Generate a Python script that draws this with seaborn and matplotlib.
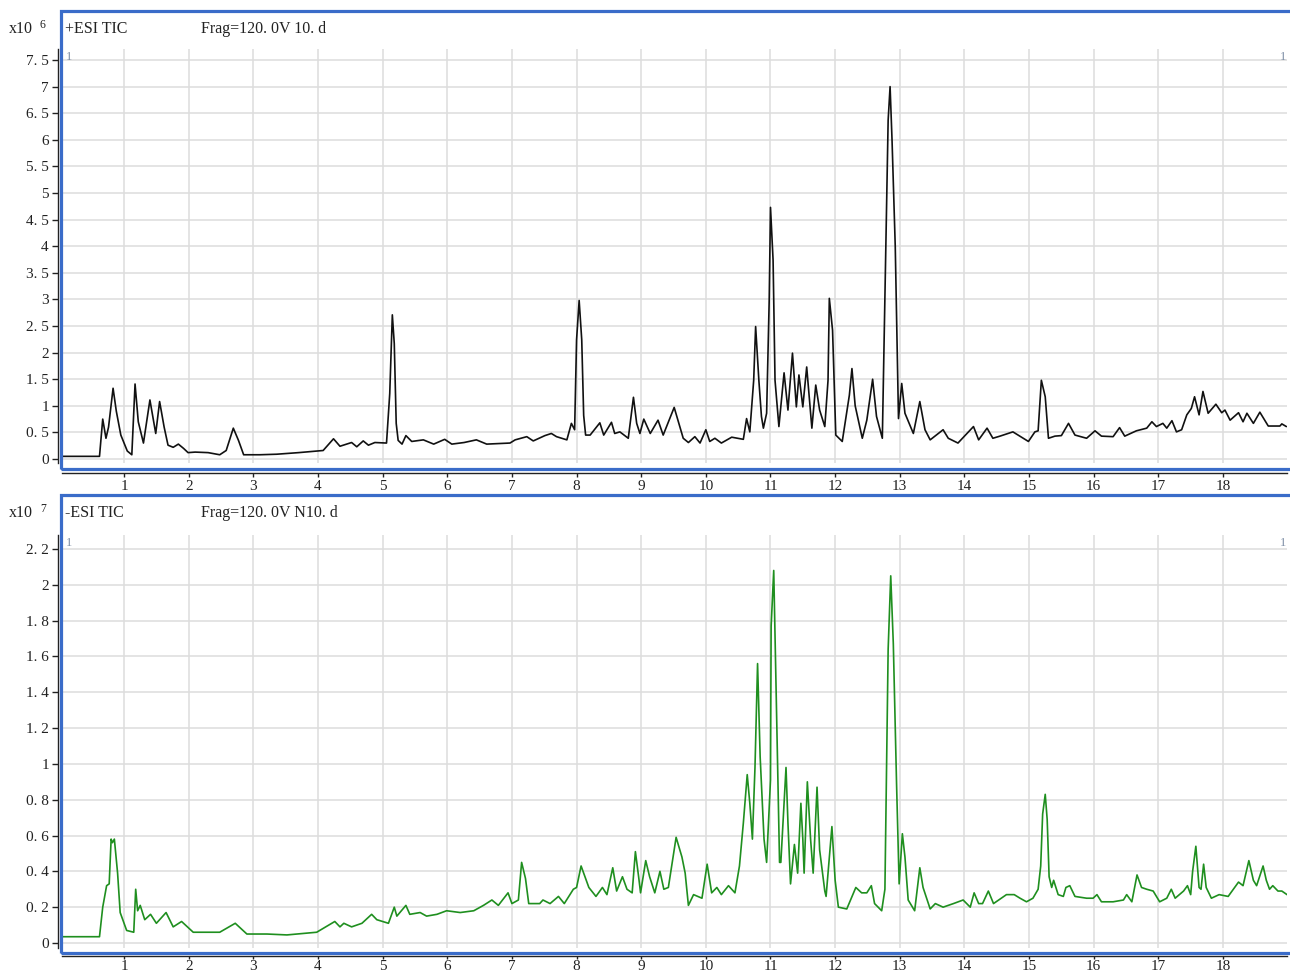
import pandas as pd
import seaborn as sns
import matplotlib.pyplot as plt
from matplotlib.patches import Rectangle

# +ESI TIC, Frag=120.0V 10.d  (retention time, min / counts x10^6)
pos_rt = [0.04, 0.62, 0.67, 0.72, 0.76, 0.83, 0.88, 0.95, 1.05, 1.12, 1.17, 1.22, 1.30, 1.40, 1.49,
          1.55, 1.62, 1.68, 1.76, 1.84, 1.92, 1.99, 2.10, 2.30, 2.48, 2.58, 2.69, 2.77, 2.85, 3.10,
          3.36, 3.70, 4.08, 4.24, 4.34, 4.52, 4.60, 4.70, 4.78, 4.88, 5.06, 5.11, 5.15, 5.18, 5.21,
          5.24, 5.30, 5.36, 5.45, 5.63, 5.79, 5.96, 6.07, 6.26, 6.45, 6.61, 6.97, 7.05, 7.23, 7.33,
          7.51, 7.61, 7.69, 7.85, 7.92, 7.97, 8.00, 8.04, 8.08, 8.11, 8.14, 8.21, 8.36, 8.42, 8.54,
          8.59, 8.67, 8.80, 8.88, 8.93, 8.98, 9.04, 9.14, 9.26, 9.34, 9.51, 9.65, 9.73, 9.83, 9.91,
          10.00, 10.06, 10.14, 10.24, 10.40, 10.58, 10.63, 10.68, 10.74, 10.77, 10.82, 10.86, 10.89,
          10.94, 10.98, 11.00, 11.04, 11.07, 11.13, 11.21, 11.27, 11.34, 11.40, 11.44, 11.50, 11.56,
          11.64, 11.70, 11.76, 11.84, 11.89, 11.91, 11.96, 12.01, 12.11, 12.22, 12.26, 12.31, 12.42,
          12.49, 12.58, 12.64, 12.73, 12.78, 12.82, 12.85, 12.88, 12.93, 12.98, 13.03, 13.08, 13.21,
          13.31, 13.39, 13.47, 13.67, 13.75, 13.90, 14.14, 14.22, 14.35, 14.44, 14.55, 14.75, 14.99,
          15.09, 15.14, 15.19, 15.25, 15.30, 15.40, 15.50, 15.61, 15.71, 15.89, 16.02, 16.12, 16.30,
          16.40, 16.48, 16.66, 16.82, 16.90, 16.97, 17.07, 17.13, 17.21, 17.28, 17.36, 17.44, 17.51,
          17.56, 17.63, 17.69, 17.77, 17.89, 17.98, 18.03, 18.11, 18.24, 18.31, 18.37, 18.47, 18.57,
          18.70, 18.88, 18.91, 18.98]
pos_int = [0.05, 0.05, 0.75, 0.39, 0.60, 1.33, 0.90, 0.45, 0.15, 0.08, 1.41, 0.70, 0.30, 1.11, 0.48,
           1.08, 0.60, 0.26, 0.22, 0.28, 0.20, 0.12, 0.13, 0.12, 0.08, 0.16, 0.58, 0.35, 0.08, 0.08,
           0.09, 0.12, 0.16, 0.38, 0.24, 0.31, 0.23, 0.34, 0.26, 0.31, 0.30, 1.23, 2.71, 2.17, 0.67,
           0.35, 0.28, 0.44, 0.33, 0.36, 0.28, 0.37, 0.28, 0.31, 0.36, 0.28, 0.30, 0.36, 0.42, 0.34,
           0.44, 0.48, 0.42, 0.36, 0.67, 0.55, 2.24, 2.98, 2.24, 0.82, 0.45, 0.45, 0.68, 0.45, 0.69,
           0.48, 0.51, 0.39, 1.16, 0.67, 0.48, 0.75, 0.48, 0.73, 0.45, 0.97, 0.39, 0.31, 0.42, 0.30,
           0.55, 0.33, 0.39, 0.30, 0.41, 0.37, 0.76, 0.51, 1.48, 2.49, 1.48, 0.80, 0.58,
           0.86, 2.99, 4.73, 3.74, 1.48, 0.61, 1.62, 0.92, 1.99, 0.98, 1.58, 0.98, 1.73,
           0.58, 1.39, 0.92, 0.61, 1.48, 3.02, 2.42, 0.45, 0.33, 1.20, 1.70, 1.00, 0.39,
           0.73, 1.50, 0.80, 0.39, 3.74, 6.37, 7.00, 6.00, 3.99, 0.76, 1.42, 0.86, 0.48,
           1.08, 0.55, 0.36, 0.55, 0.39, 0.30, 0.61, 0.36, 0.58, 0.39, 0.43, 0.51, 0.33,
           0.51, 0.53, 1.48, 1.17, 0.39, 0.43, 0.44, 0.67, 0.45, 0.39, 0.53, 0.43, 0.42,
           0.59, 0.43, 0.53, 0.58, 0.70, 0.61, 0.67, 0.58, 0.72, 0.51, 0.55, 0.83, 0.95,
           1.17, 0.83, 1.27, 0.86, 1.03, 0.87, 0.92, 0.73, 0.87, 0.70, 0.86, 0.67, 0.88,
           0.62, 0.62, 0.66, 0.61]

# -ESI TIC, Frag=120.0V N10.d  (retention time, min / counts x10^7)
neg_rt = [0.04, 0.62, 0.67, 0.73, 0.77, 0.80, 0.82, 0.85, 0.90, 0.94, 1.04, 1.15, 1.18, 1.21, 1.25,
          1.32, 1.41, 1.50, 1.65, 1.76, 1.89, 2.07, 2.48, 2.72, 2.90, 3.21, 3.52, 3.98, 4.26, 4.34,
          4.40, 4.52, 4.68, 4.83, 4.91, 5.09, 5.18, 5.22, 5.36, 5.42, 5.58, 5.68, 5.84, 5.99, 6.20,
          6.41, 6.56, 6.69, 6.79, 6.94, 7.00, 7.10, 7.15, 7.21, 7.26, 7.43, 7.48, 7.59, 7.72, 7.81,
          7.95, 8.00, 8.07, 8.19, 8.30, 8.40, 8.47, 8.56, 8.62, 8.71, 8.78, 8.86, 8.91, 8.96, 8.99,
          9.07, 9.13, 9.21, 9.29, 9.35, 9.42, 9.54, 9.59, 9.63, 9.68, 9.73, 9.81, 9.94, 10.02, 10.09,
          10.17, 10.24, 10.35, 10.45, 10.52, 10.58, 10.64, 10.68, 10.72, 10.76, 10.80, 10.84, 10.90,
          10.94, 11.00, 11.01, 11.05, 11.09, 11.14, 11.16, 11.24, 11.27, 11.31, 11.37, 11.42, 11.47,
          11.50, 11.52, 11.57, 11.62, 11.66, 11.72, 11.76, 11.84, 11.86, 11.95, 12.00, 12.05, 12.18,
          12.32, 12.41, 12.49, 12.56, 12.61, 12.72, 12.77, 12.82, 12.86, 12.90, 12.95, 12.99, 13.04,
          13.08, 13.13, 13.23, 13.31, 13.36, 13.47, 13.55, 13.67, 13.83, 13.98, 14.09, 14.15, 14.22,
          14.28, 14.37, 14.45, 14.65, 14.77, 14.86, 14.96, 15.06, 15.14, 15.18, 15.21, 15.25, 15.28,
          15.31, 15.35, 15.38, 15.45, 15.53, 15.57, 15.63, 15.71, 15.89, 15.99, 16.05, 16.12, 16.30,
          16.46, 16.51, 16.59, 16.67, 16.74, 16.82, 16.92, 17.02, 17.13, 17.20, 17.26, 17.39, 17.45,
          17.50, 17.53, 17.58, 17.63, 17.66, 17.70, 17.74, 17.82, 17.94, 18.08, 18.24, 18.31, 18.40,
          18.47, 18.52, 18.62, 18.67, 18.72, 18.77, 18.85, 18.91, 18.99]
neg_int = [0.035, 0.035, 0.20, 0.32, 0.33, 0.58, 0.56, 0.58, 0.39, 0.17, 0.07, 0.06, 0.30, 0.18, 0.21,
           0.13, 0.16, 0.11, 0.17, 0.09, 0.12, 0.06, 0.06, 0.11, 0.05, 0.05, 0.045, 0.06, 0.12, 0.09,
           0.11, 0.09, 0.11, 0.16, 0.13, 0.11, 0.20, 0.15, 0.21, 0.16, 0.17, 0.15, 0.16, 0.18, 0.17,
           0.18, 0.21, 0.24, 0.21, 0.28, 0.22, 0.24, 0.45, 0.36, 0.22, 0.22, 0.24, 0.22, 0.26, 0.22,
           0.30, 0.31, 0.43, 0.31, 0.26, 0.31, 0.27, 0.42, 0.29, 0.37, 0.30, 0.28, 0.51, 0.37, 0.28,
           0.46, 0.37, 0.28, 0.40, 0.30, 0.31, 0.59, 0.53, 0.48, 0.39, 0.21, 0.27, 0.25, 0.44, 0.28,
           0.31, 0.27, 0.32, 0.28, 0.43, 0.67, 0.94, 0.78, 0.58, 0.98, 1.56, 1.04, 0.58,
           0.45, 0.91, 1.77, 2.08, 1.36, 0.45, 0.45, 0.98, 0.67, 0.33, 0.55, 0.39, 0.78,
           0.58, 0.39, 0.90, 0.58, 0.39, 0.87, 0.52, 0.29, 0.26, 0.65, 0.35, 0.20, 0.19,
           0.31, 0.28, 0.28, 0.32, 0.22, 0.18, 0.30, 1.64, 2.05, 1.67, 0.89, 0.33, 0.61,
           0.48, 0.24, 0.18, 0.42, 0.31, 0.19, 0.22, 0.20, 0.22, 0.24, 0.20, 0.28, 0.22,
           0.22, 0.29, 0.22, 0.27, 0.27, 0.25, 0.23, 0.25, 0.30, 0.43, 0.72, 0.83, 0.69,
           0.37, 0.31, 0.35, 0.27, 0.26, 0.31, 0.32, 0.26, 0.25, 0.25, 0.27, 0.23, 0.23,
           0.24, 0.27, 0.23, 0.38, 0.31, 0.30, 0.29, 0.23, 0.25, 0.30, 0.25, 0.29, 0.32,
           0.27, 0.40, 0.54, 0.31, 0.30, 0.44, 0.31, 0.25, 0.27, 0.26, 0.34, 0.32, 0.46,
           0.35, 0.32, 0.43, 0.35, 0.30, 0.32, 0.29, 0.29, 0.27]

x_ticks = list(range(1, 19))
pos_yticks = [0, 0.5, 1, 1.5, 2, 2.5, 3, 3.5, 4, 4.5, 5, 5.5, 6, 6.5, 7, 7.5]
pos_ylabels = ["0", "0. 5", "1", "1. 5", "2", "2. 5", "3", "3. 5", "4", "4. 5",
               "5", "5. 5", "6", "6. 5", "7", "7. 5"]
neg_yticks = [0, 0.2, 0.4, 0.6, 0.8, 1, 1.2, 1.4, 1.6, 1.8, 2, 2.2]
neg_ylabels = ["0", "0. 2", "0. 4", "0. 6", "0. 8", "1", "1. 2", "1. 4", "1. 6", "1. 8", "2", "2. 2"]

W, H = 1290, 974


def fx(px):
    return px / W


def fy(py):
    return 1 - py / H


sns.set_style("white")
plt.rcParams["font.family"] = ["Liberation Serif", "DejaVu Sans"]

fig = plt.figure(figsize=(W / 100, H / 100), dpi=100)

panels = [
    dict(rt=pos_rt, val=pos_int, color="#111111", yt=pos_yticks, yl=pos_ylabels,
         ylim=(-0.075, 7.707), ax_top=49, ax_bot=463, frame=(11, 469), head=29,
         exp="6", mode="+ESI TIC", name="Frag=120. 0V 10. d",
         offset=7.2, tlen=3, xpad=2),
    dict(rt=neg_rt, val=neg_int, color="#1f8f1f", yt=neg_yticks, yl=neg_ylabels,
         ylim=(-0.028, 2.278), ax_top=535, ax_bot=948, frame=(495, 953), head=513,
         exp="7", mode="-ESI TIC", name="Frag=120. 0V N10. d",
         offset=5.5, tlen=2, xpad=1.5),
]

for p in panels:
    ax = fig.add_axes([fx(62), fy(p["ax_bot"]), fx(1287 - 62), (p["ax_bot"] - p["ax_top"]) / H])
    df = pd.DataFrame({"rt": p["rt"], "intensity": p["val"]})
    sns.lineplot(data=df, x="rt", y="intensity", ax=ax, color=p["color"],
                 linewidth=1.2, estimator=None, sort=False, zorder=3)

    ax.set_xlim(0.04, 18.99)
    ax.set_ylim(*p["ylim"])
    ax.set_xticks(x_ticks)
    ax.set_xticklabels([str(t) for t in x_ticks])
    ax.set_yticks(p["yt"])
    ax.set_yticklabels(p["yl"])
    ax.set_xlabel("")
    ax.set_ylabel("")
    ax.grid(True, color="#dddddd", linewidth=1.1, zorder=0)
    ax.set_axisbelow(True)

    for side in ["top", "right"]:
        ax.spines[side].set_visible(False)
    ax.spines["left"].set_position(("outward", 3))
    ax.spines["bottom"].set_position(("outward", p["offset"]))
    for side in ["left", "bottom"]:
        ax.spines[side].set_color("#222222")
        ax.spines[side].set_linewidth(1.0)

    ax.tick_params(axis="x", direction="out", length=p["tlen"], width=1, color="#222222",
                   labelsize=11, labelcolor="#222222", pad=p["xpad"], bottom=True)
    ax.tick_params(axis="y", direction="out", length=4.5, width=1, color="#222222",
                   labelsize=11, labelcolor="#222222", pad=2, left=True)

    # blue panel frame
    top, bot = p["frame"]
    fig.add_artist(Rectangle((fx(60.5), fy(bot)), fx(1300 - 60.5), (bot - top) / H,
                             transform=fig.transFigure, fill=False,
                             edgecolor="#3a6cc9", linewidth=2.3, zorder=5))

    # header line
    hy = fy(p["head"])
    fig.text(fx(9), hy, "x10", fontsize=11.5, va="center", ha="left", color="#222222")
    fig.text(fx(40), hy + 0.004, p["exp"], fontsize=8.5, va="center", ha="left", color="#222222")
    fig.text(fx(65), hy, p["mode"], fontsize=11.5, va="center", ha="left", color="#222222")
    fig.text(fx(201), hy, p["name"], fontsize=11.5, va="center", ha="left", color="#222222")

    # small trace index markers
    my = fy(p["ax_top"] + 8)
    fig.text(fx(66), my, "1", fontsize=9, va="center", ha="left", color="#7d8ea6")
    fig.text(fx(1286), my, "1", fontsize=9, va="center", ha="right", color="#7d8ea6")

fig.savefig("out.png", dpi=100)
